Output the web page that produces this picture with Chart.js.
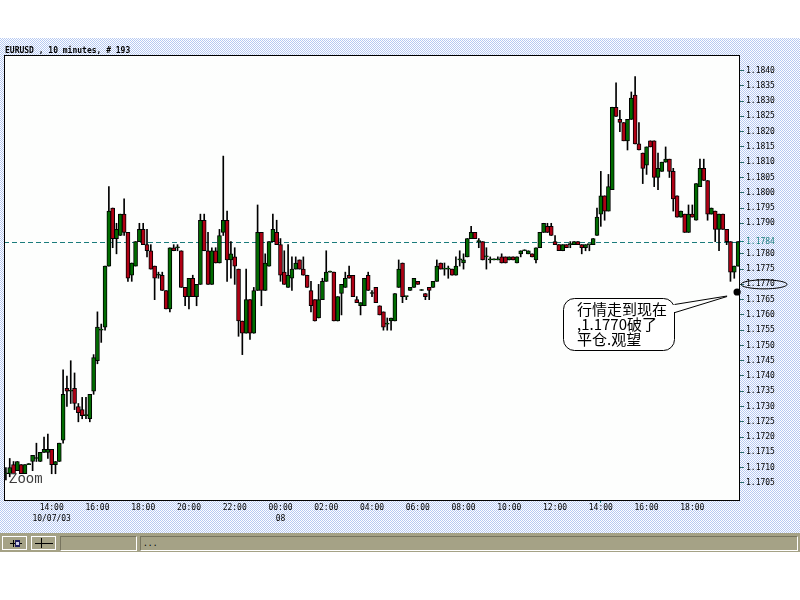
<!DOCTYPE html>
<html>
<head>
<meta charset="utf-8">
<title>EURUSD , 10 minutes</title>
<script src="https://cdn.jsdelivr.net/npm/chart.js@4/dist/chart.umd.min.js"></script>
<style>
  html, body { margin:0; padding:0; width:800px; height:600px; overflow:hidden; background:#ffffff; }
  #frame { position:absolute; left:0; top:38px; width:800px; height:495px; background-color:#dfe6f8; }
  #toolbar { position:absolute; left:0; top:533px; width:800px; height:19px; background:#a5a286; }
  .btn { position:absolute; top:3px; height:14px; border:1px solid #ffffff; box-sizing:border-box; }
  .field { position:absolute; top:3px; height:15px; box-sizing:border-box;
    border-top:1px solid #77745e; border-left:1px solid #77745e;
    border-right:1px solid #ffffff; border-bottom:1px solid #ffffff;
    font:8px "DejaVu Sans Mono", monospace; color:#000; }
  .ln { position:absolute; background:#000; }
  #chart { position:absolute; left:0; top:0; }
</style>
</head>
<body>
<div id="frame"></div>
<div id="toolbar">
  <div class="btn" style="left:2px;width:25px;">
    <div class="ln" style="left:7px;top:6px;width:12px;height:1px;"></div>
    <div class="ln" style="left:10px;top:3px;width:1px;height:7px;"></div>
    <div class="ln" style="left:12px;top:3px;width:5px;height:7px;background:#202060;"></div>
    <div class="ln" style="left:13px;top:5px;width:3px;height:3px;background:#d0d0e8;"></div>
  </div>
  <div class="btn" style="left:31px;width:25px;">
    <div class="ln" style="left:3px;top:6px;width:18px;height:1px;"></div>
    <div class="ln" style="left:9px;top:1px;width:1px;height:10px;"></div>
  </div>
  <div class="field" style="left:60px;width:77px;"></div>
  <div class="field" style="left:140px;width:658px;"><span style="position:absolute;left:2px;top:2px;">...</span></div>
</div>
<canvas id="chart" width="800" height="600"></canvas>
<script>
// EURUSD, 10-minute bars, first bar at 12:00 on 10/07/03
const firstBarTime = '12:00';
const barMinutes = 10;

const openP = [
  1.1708,1.1708,1.1711,1.1709,1.1711,1.1708,1.1711,1.1712,1.1713,1.1712,
  1.1715,1.1715,1.1716,1.1711,1.1712,1.1719,1.1736,1.1735,1.1736,1.1730,
  1.1729,1.1727,1.1726,1.1735,1.1745,1.1755,1.1756,1.1776,1.1795,1.1785,
  1.1786,1.1793,1.1787,1.1773,1.1776,1.1784,1.1788,1.1783,1.1781,1.1776,
  1.1773,1.1773,1.1768,1.1762,1.1782,1.1782,1.1781,1.1769,1.1766,1.1772,
  1.1766,1.1770,1.1791,1.1781,1.1770,1.1781,1.1777,1.1787,1.1791,1.1778,
  1.1779,1.1775,1.1758,1.1754,1.1765,1.1754,1.1768,1.1787,1.1768,1.1776,
  1.1784,1.1787,1.1783,1.1774,1.1769,1.1772,1.1775,1.1778,1.1775,1.1773,
  1.1768,1.1765,1.1759,1.1765,1.1771,1.1774,1.1774,1.1758,1.1767,1.1769,
  1.1773,1.1773,1.1765,1.1763,1.1763,1.1773,1.1767,1.1769,1.1763,1.1761,
  1.1757,1.1758,1.1758,1.1769,1.1777,1.1766,1.1768,1.1769,1.1771,1.1768,
  1.1767,1.1769,1.1769,1.1771,1.1777,1.1775,1.1775,1.1775,1.1773,1.1778,
  1.1777,1.1779,1.1785,1.1787,1.1784,1.1784,1.1779,1.1778,1.1778,1.1778,
  1.1779,1.1779,1.1778,1.1779,1.1777,1.1780,1.1781,1.1780,1.1780,1.1778,
  1.1782,1.1787,1.1789,1.1789,1.1784,1.1783,1.1781,1.1783,1.1783,1.1783,
  1.1784,1.1783,1.1782,1.1783,1.1783,1.1786,1.1793,1.1799,1.1794,1.1801,
  1.1828,1.1824,1.1823,1.1817,1.1824,1.1832,1.1816,1.1813,1.1809,1.1817,
  1.1817,1.1805,1.1807,1.1810,1.1811,1.1807,1.1799,1.1792,1.1793,1.1787,
  1.1793,1.1791,1.1802,1.1808,1.1804,1.1793,1.1794,1.1788,1.1793,1.1788,
  1.1784,1.1774,1.1776
];
const highP = [
  1.1710,1.1713,1.1712,1.1712,1.1711,1.1711,1.1711,1.1714,1.1718,1.1715,
  1.1720,1.1721,1.1716,1.1712,1.1718,1.1742,1.1740,1.1745,1.1741,1.1731,
  1.1733,1.1733,1.1734,1.1747,1.1761,1.1757,1.1776,1.1802,1.1795,1.1790,
  1.1793,1.1798,1.1787,1.1777,1.1784,1.1790,1.1790,1.1788,1.1783,1.1776,
  1.1774,1.1774,1.1768,1.1782,1.1783,1.1783,1.1781,1.1769,1.1772,1.1773,
  1.1770,1.1793,1.1793,1.1787,1.1782,1.1782,1.1788,1.1812,1.1794,1.1784,
  1.1782,1.1775,1.1758,1.1775,1.1765,1.1769,1.1796,1.1787,1.1780,1.1784,
  1.1793,1.1791,1.1785,1.1781,1.1783,1.1779,1.1779,1.1778,1.1779,1.1773,
  1.1771,1.1765,1.1770,1.1772,1.1781,1.1774,1.1774,1.1766,1.1770,1.1774,
  1.1776,1.1773,1.1766,1.1764,1.1772,1.1774,1.1768,1.1769,1.1763,1.1761,
  1.1759,1.1759,1.1767,1.1778,1.1777,1.1766,1.1769,1.1772,1.1771,1.1768,
  1.1767,1.1769,1.1771,1.1778,1.1777,1.1777,1.1776,1.1775,1.1779,1.1781,
  1.1780,1.1785,1.1789,1.1787,1.1785,1.1784,1.1782,1.1779,1.1778,1.1779,
  1.1780,1.1779,1.1779,1.1779,1.1779,1.1781,1.1781,1.1781,1.1780,1.1782,
  1.1787,1.1790,1.1790,1.1790,1.1786,1.1783,1.1783,1.1783,1.1784,1.1784,
  1.1784,1.1783,1.1783,1.1783,1.1785,1.1795,1.1807,1.1799,1.1806,1.1828,
  1.1836,1.1827,1.1823,1.1824,1.1833,1.1838,1.1823,1.1813,1.1815,1.1817,
  1.1817,1.1813,1.1810,1.1815,1.1811,1.1808,1.1799,1.1794,1.1793,1.1796,
  1.1796,1.1803,1.1811,1.1811,1.1804,1.1795,1.1794,1.1793,1.1793,1.1788,
  1.1784,1.1776,1.1784
];
const lowP = [
  1.1706,1.1707,1.1708,1.1709,1.1708,1.1708,1.1711,1.1709,1.1712,1.1712,
  1.1715,1.1713,1.1708,1.1708,1.1712,1.1718,1.1730,1.1731,1.1729,1.1725,
  1.1726,1.1726,1.1725,1.1734,1.1744,1.1751,1.1755,1.1776,1.1782,1.1780,
  1.1786,1.1786,1.1771,1.1771,1.1776,1.1784,1.1783,1.1779,1.1775,1.1765,
  1.1772,1.1768,1.1762,1.1761,1.1781,1.1781,1.1769,1.1763,1.1762,1.1766,
  1.1763,1.1770,1.1781,1.1770,1.1770,1.1777,1.1777,1.1786,1.1771,1.1772,
  1.1770,1.1753,1.1747,1.1754,1.1752,1.1754,1.1768,1.1763,1.1768,1.1776,
  1.1784,1.1783,1.1771,1.1770,1.1769,1.1768,1.1775,1.1775,1.1773,1.1769,
  1.1761,1.1758,1.1759,1.1765,1.1771,1.1774,1.1758,1.1758,1.1760,1.1769,
  1.1772,1.1766,1.1764,1.1760,1.1763,1.1768,1.1766,1.1764,1.1760,1.1755,
  1.1755,1.1755,1.1758,1.1769,1.1764,1.1765,1.1768,1.1769,1.1770,1.1768,
  1.1765,1.1765,1.1769,1.1771,1.1775,1.1773,1.1772,1.1773,1.1773,1.1776,
  1.1775,1.1779,1.1785,1.1785,1.1782,1.1778,1.1775,1.1777,1.1778,1.1778,
  1.1777,1.1777,1.1778,1.1778,1.1777,1.1779,1.1781,1.1780,1.1779,1.1777,
  1.1782,1.1787,1.1787,1.1786,1.1783,1.1781,1.1781,1.1782,1.1782,1.1783,
  1.1783,1.1780,1.1781,1.1781,1.1783,1.1786,1.1789,1.1791,1.1794,1.1801,
  1.1825,1.1820,1.1817,1.1814,1.1824,1.1816,1.1814,1.1803,1.1806,1.1815,
  1.1802,1.1801,1.1807,1.1810,1.1805,1.1794,1.1792,1.1792,1.1787,1.1787,
  1.1792,1.1791,1.1802,1.1804,1.1791,1.1793,1.1784,1.1781,1.1788,1.1783,
  1.1771,1.1772,1.1776
];
const closeP = [
  1.1708,1.1710,1.1708,1.1712,1.1708,1.1711,1.1711,1.1714,1.1713,1.1715,
  1.1716,1.1716,1.1711,1.1712,1.1718,1.1734,1.1735,1.1735,1.1731,1.1728,
  1.1727,1.1727,1.1734,1.1746,1.1756,1.1755,1.1776,1.1794,1.1785,1.1788,
  1.1793,1.1787,1.1772,1.1777,1.1784,1.1788,1.1783,1.1781,1.1775,1.1772,
  1.1773,1.1768,1.1762,1.1782,1.1781,1.1782,1.1769,1.1766,1.1772,1.1766,
  1.1770,1.1791,1.1781,1.1770,1.1781,1.1777,1.1786,1.1791,1.1778,1.1780,
  1.1776,1.1758,1.1754,1.1765,1.1754,1.1768,1.1787,1.1768,1.1777,1.1784,
  1.1788,1.1783,1.1773,1.1770,1.1773,1.1775,1.1777,1.1775,1.1773,1.1769,
  1.1763,1.1758,1.1765,1.1771,1.1774,1.1774,1.1758,1.1766,1.1770,1.1772,
  1.1772,1.1766,1.1764,1.1764,1.1772,1.1768,1.1767,1.1764,1.1760,1.1756,
  1.1757,1.1759,1.1767,1.1775,1.1766,1.1766,1.1769,1.1772,1.1770,1.1768,
  1.1766,1.1768,1.1771,1.1776,1.1775,1.1775,1.1775,1.1773,1.1776,1.1778,
  1.1778,1.1785,1.1787,1.1785,1.1784,1.1778,1.1779,1.1778,1.1778,1.1778,
  1.1777,1.1777,1.1779,1.1778,1.1779,1.1781,1.1781,1.1781,1.1779,1.1782,
  1.1787,1.1790,1.1787,1.1786,1.1783,1.1781,1.1783,1.1782,1.1783,1.1784,
  1.1783,1.1782,1.1783,1.1783,1.1785,1.1792,1.1799,1.1794,1.1802,1.1828,
  1.1825,1.1823,1.1817,1.1824,1.1831,1.1816,1.1814,1.1808,1.1815,1.1815,
  1.1805,1.1808,1.1810,1.1811,1.1807,1.1798,1.1792,1.1794,1.1787,1.1793,
  1.1792,1.1803,1.1808,1.1804,1.1793,1.1795,1.1788,1.1793,1.1788,1.1784,
  1.1774,1.1776,1.1784
];

// price scale
const yTicks = [
  1.1840,1.1835,1.1830,1.1825,1.1820,1.1815,1.1810,1.1805,1.1800,1.1795,
  1.1790,1.1784,1.1780,1.1775,1.1770,1.1765,1.1760,1.1755,1.1750,1.1745,
  1.1740,1.1735,1.1730,1.1725,1.1720,1.1715,1.1710,1.1705
];
const yMin = 1.16994, yMax = 1.18451;
const lastPrice = 1.1784;     // current price line
const stopPrice = 1.1770;     // circled level
const notePrice = 1.17675;    // marker point of the note
const noteLines = ['行情走到现在', ',1.1770破了', '平仓.观望'];

// time axis
const timeTicks = ['14:00','16:00','18:00','20:00','22:00','00:00','02:00','04:00','06:00','08:00','10:00','12:00','14:00','16:00','18:00'];
const dateLines = { 0: '10/07/03', 5: '08' };
const titleText = 'EURUSD , 10 minutes, # 193';

// dithered window background (1px checker)
{
  const p = document.createElement('canvas');
  p.width = 2; p.height = 2;
  const g = p.getContext('2d');
  g.fillStyle = '#ffffff'; g.fillRect(0, 0, 2, 2);
  g.fillStyle = '#b6c9f2'; g.fillRect(0, 0, 1, 1); g.fillRect(1, 1, 1, 1);
  const f = document.getElementById('frame');
  f.style.backgroundImage = 'url(' + p.toDataURL() + ')';
  f.style.backgroundSize = '2px 2px';
  f.style.imageRendering = 'pixelated';
}

const times = [];
{
  let [h, m] = firstBarTime.split(':').map(Number);
  let t = h * 60 + m;
  for (let i = 0; i < openP.length; i++) {
    const mm = (t + i * barMinutes) % 1440;
    times.push(String(Math.floor(mm / 60)).padStart(2, '0') + ':' + String(mm % 60).padStart(2, '0'));
  }
}
// indices of bars that carry a time label
const tickIndex = {};
{
  let k = 0;
  for (let i = 1; i < times.length && k < timeTicks.length; i++) {
    if (times[i] === timeTicks[k]) { tickIndex[i] = k; k++; }
  }
}

const GREEN = '#006c00', RED = '#b00014', TEAL = '#1a7c7c', TICK = '#2a6868';
const monoFont = { family: '"DejaVu Sans Mono", monospace', size: 8 };

const decor = {
  id: 'decor',
  beforeDraw(chart) {
    const { ctx, chartArea: a } = chart;
    ctx.save();
    ctx.fillStyle = '#fdfefd';
    ctx.fillRect(a.left, a.top, a.right - a.left, a.bottom - a.top);
    ctx.restore();
  },
  beforeDatasetsDraw(chart) {
    const { ctx, chartArea: a, scales: { y } } = chart;
    const py = Math.round(y.getPixelForValue(lastPrice)) + 0.5;
    ctx.save();
    ctx.strokeStyle = TEAL;
    ctx.lineWidth = 1;
    ctx.setLineDash([5, 3]);
    ctx.beginPath();
    ctx.moveTo(a.left, py);
    ctx.lineTo(a.right, py);
    ctx.stroke();
    ctx.restore();
  },
  afterDraw(chart) {
    const { ctx, chartArea: a, scales: { x, y } } = chart;
    ctx.save();
    // plot frame
    ctx.strokeStyle = '#000';
    ctx.lineWidth = 1;
    ctx.strokeRect(a.left + 0.5, a.top + 0.5, a.right - a.left - 1, a.bottom - a.top);

    // window title
    ctx.fillStyle = '#000';
    ctx.font = 'bold 8px "DejaVu Sans Mono", monospace';
    ctx.textBaseline = 'alphabetic';
    ctx.textAlign = 'left';
    ctx.fillText(titleText, 5, 53);

    // zoom caption
    ctx.fillStyle = '#3c3c3c';
    ctx.font = '14px "Liberation Mono", monospace';
    ctx.fillText('Zoom', 9, 483);

    // ellipse round the broken level on the axis
    const sy = y.getPixelForValue(stopPrice);
    ctx.strokeStyle = '#000';
    ctx.beginPath();
    ctx.ellipse(764, sy, 23, 4.5, 0, 0, Math.PI * 2);
    ctx.stroke();

    // marker point
    const mx = x.getPixelForValue(openP.length - 1) - 1;
    const my = y.getPixelForValue(notePrice);
    ctx.fillStyle = '#000';
    ctx.beginPath();
    ctx.arc(mx, my, 3.6, 0, Math.PI * 2);
    ctx.fill();

    // callout box
    const bx = 563.5, by = 298.5, bw = 111, bh = 52, r = 11;
    ctx.fillStyle = '#ffffff';
    ctx.strokeStyle = '#000';
    ctx.beginPath();
    ctx.roundRect(bx, by, bw, bh, r);
    ctx.fill();
    ctx.stroke();
    // opening for the pointer
    ctx.fillRect(bx + bw - 2, 305, 4, 7);
    ctx.beginPath();
    ctx.moveTo(bx + bw, 304.5);
    ctx.lineTo(mx - 10, my + 4);
    ctx.moveTo(bx + bw + 0.5, 312.5);
    ctx.lineTo(mx - 10, my + 4.5);
    ctx.stroke();

    ctx.fillStyle = '#000';
    ctx.font = '15px "Noto Sans CJK SC", sans-serif';
    ctx.textBaseline = 'middle';
    noteLines.forEach((t, i) => ctx.fillText(t, 577, 309 + i * 15));
    ctx.restore();
  }
};

new Chart(document.getElementById('chart'), {
  type: 'bar',
  data: {
    labels: times,
    datasets: [
      {
        label: 'body',
        data: openP.map((o, i) => [o, closeP[i]]),
        backgroundColor: openP.map((o, i) => closeP[i] >= o ? GREEN : RED),
        borderColor: '#000',
        borderWidth: 1,
        borderSkipped: false,
        barThickness: 4,
        minBarLength: 1,
        grouped: false,
        order: 0
      },
      {
        label: 'wick',
        data: lowP.map((l, i) => [l, highP[i]]),
        backgroundColor: '#000',
        borderWidth: 0,
        barThickness: 1,
        minBarLength: 1,
        grouped: false,
        order: 1
      }
    ]
  },
  options: {
    responsive: false,
    animation: false,
    devicePixelRatio: 1,
    layout: { padding: { left: 4, top: 55, right: 0, bottom: 67 } },
    plugins: { legend: { display: false }, tooltip: { enabled: false }, title: { display: false } },
    scales: {
      x: {
        offset: true,
        border: { display: false },
        grid: {
          offset: false,
          drawOnChartArea: false,
          tickLength: 3,
          color: c => (c.index in tickIndex) ? TEAL : 'rgba(0,0,0,0)'
        },
        ticks: {
          autoSkip: false,
          maxRotation: 0,
          minRotation: 0,
          padding: 0,
          color: '#000',
          font: { ...monoFont, lineHeight: 1.35 },
          callback: (v, i) => {
            if (!(i in tickIndex)) return null;
            const k = tickIndex[i];
            return dateLines[k] ? [timeTicks[k], dateLines[k]] : timeTicks[k];
          }
        },
        afterFit: s => { s.height = 33; }
      },
      y: {
        position: 'right',
        min: yMin,
        max: yMax,
        border: { display: false },
        afterBuildTicks: s => { s.ticks = yTicks.map(v => ({ value: v })); },
        grid: {
          drawOnChartArea: false,
          tickLength: 4,
          color: c => (c.tick && c.tick.value === lastPrice) ? TEAL : TICK
        },
        ticks: {
          padding: 2,
          font: monoFont,
          color: c => (c.tick && c.tick.value === lastPrice) ? TEAL : '#000',
          callback: v => Number(v).toFixed(4)
        },
        afterFit: s => { s.width = 60; }
      }
    }
  },
  plugins: [decor]
});
</script>
</body>
</html>
